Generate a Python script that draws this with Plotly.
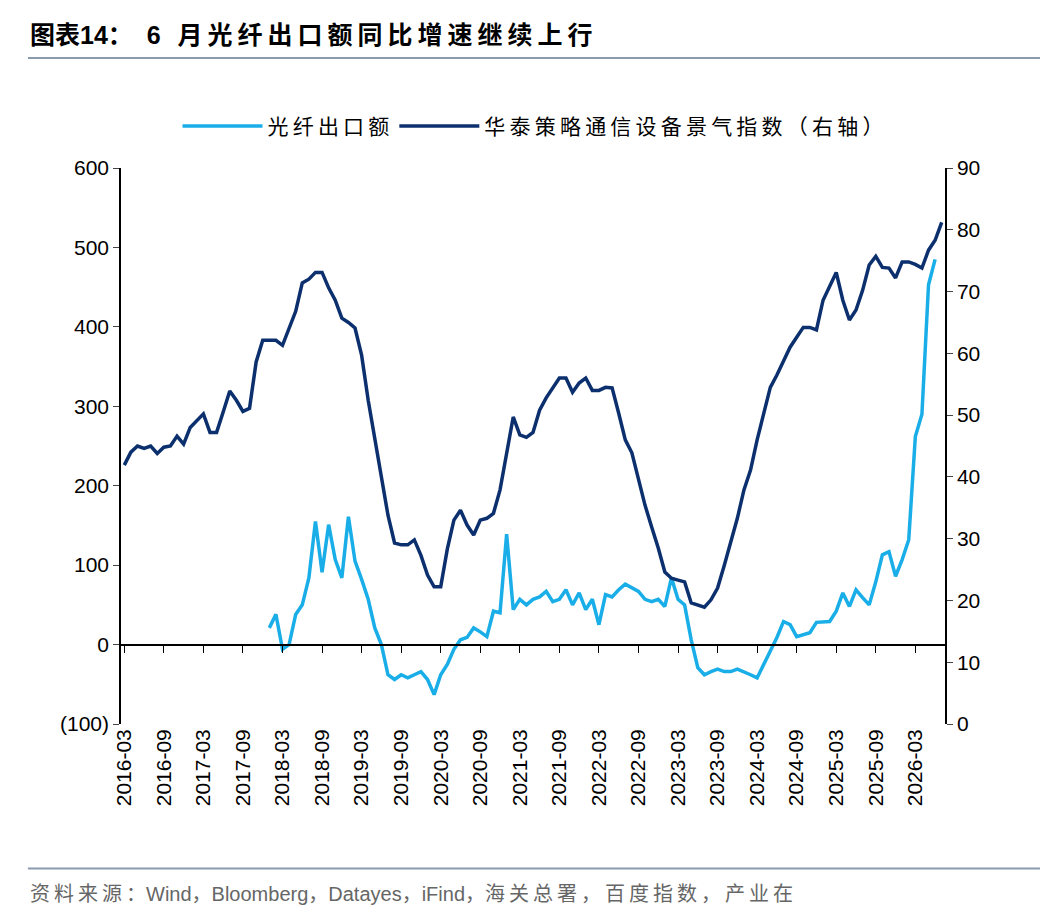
import plotly.graph_objects as go

def months(start_y, start_m, n):
    out = []
    y, m = start_y, start_m
    for _ in range(n):
        out.append(f"{y}-{m:02d}")
        m += 1
        if m > 12:
            m = 1; y += 1
    return out

index_vals = [41.9,44,45,44.6,45,43.8,44.8,45,46.6,45.3,
              48,49.2,50.2,47.2,47.2,50.5,53.9,52.4,50.6,51.1,
              58.6,62.1,62.1,62.1,61.3,64.2,66.8,71.4,72,73.1,
              73.1,70.6,68.6,65.7,65,64.1,59.7,52.4,46,39.5,
              33.8,29.3,29,29,29.8,27.3,24.1,22.2,22.2,28.3,
              33,34.6,32.2,30.6,33,33.3,34.1,37.9,43.5,49.7,
              46.8,46.4,47.2,50.8,52.8,54.4,56,56,53.7,55.2,
              56,54,54,54.5,54.4,50.3,46,43.9,39.5,35.4,
              31.9,28.5,24.6,23.6,23.3,23,19.6,19.3,18.9,20.1,
              22,25.6,29.3,33.3,37.9,41.1,46,50,54.5,56.5,
              58.6,61,62.6,64.2,64.2,63.8,68.6,71,73.1,68.6,
              65.4,67,70.2,74.3,75.7,73.9,73.8,72.2,74.8,74.8,
              74.4,73.8,76.7,78.3,81.2]
export_vals = [21,38,-6,0,38,50,84,155,91,151,
               107,84,161,105,82,57,21,0,-38,-44,
               -38,-42,-38,-34,-44,-63,-38,-25,-6,6,
               9,21,16,10,42,40,139,44,57,50,
               57,60,67,54,57,69,50,65,44,57,
               25,63,60,69,76,72,67,57,54,57,
               48,84,57,50,6,-29,-38,-34,-31,-34,
               -34,-31,-34,-38,-42,-25,-6,9,29,25,
               10,13,15,28,28,29,42,65,48,69,
               59,50,79,113,117,86,107,132,262,290,
               453,485]

dates = months(2016, 3, len(index_vals))
export_dates = dates[22:22 + len(export_vals)]
tick_labels = dates[0:121:6]
left_ticks = [-100, 0, 100, 200, 300, 400, 500, 600]
left_text = ["(100)", "0", "100", "200", "300", "400", "500", "600"]

LIGHT = "#1AAEE8"
DARK = "#0C2F6E"
FONT = "Liberation Sans, Noto Sans CJK SC, sans-serif"

def spaced(s):
    return "\u2009".join(list(s))

fig = go.Figure()
fig.add_trace(go.Scatter(x=export_dates, y=export_vals, name=spaced("光纤出口额"), mode="lines",
                         line=dict(color=LIGHT, width=3.5)))
fig.add_trace(go.Scatter(x=dates, y=index_vals, name=spaced("华泰策略通信设备景气指数（右轴）"), mode="lines",
                         line=dict(color=DARK, width=3.5), yaxis="y2"))
fig.add_trace(go.Scatter(x=dates, y=[None]*len(dates), xaxis="x2", showlegend=False, hoverinfo="skip"))

fig.update_layout(
    width=1048, height=916, paper_bgcolor="white", plot_bgcolor="white",
    margin=dict(l=113, r=111, t=160, b=200, autoexpand=False),
    font=dict(family=FONT, size=21, color="#000"),
    showlegend=True,
    legend=dict(orientation="h", x=0.5, xanchor="center", y=1.075, yanchor="middle",
                font=dict(size=21), itemwidth=80),
    xaxis=dict(type="category", categoryorder="array", categoryarray=dates,
               range=[-0.5, len(dates) - 0.5], tickmode="array", tickvals=tick_labels,
               ticktext=tick_labels, tickangle=-90, showgrid=False, showline=False,
               ticks="", tickfont=dict(size=21)),
    xaxis2=dict(type="category", categoryorder="array", categoryarray=dates, matches="x",
                overlaying="x", anchor="free", position=100/700, showline=True,
                linecolor="#000", linewidth=1.5, ticks="outside", ticklen=8,
                tickcolor="#000", tickvals=tick_labels, showticklabels=False, showgrid=False),
    yaxis=dict(range=[-100, 600], tickvals=left_ticks, ticktext=left_text, showgrid=False,
               showline=True, linecolor="#000", linewidth=1.5, ticks="outside", ticklen=6,
               zeroline=False, tickfont=dict(size=21)),
    yaxis2=dict(range=[0, 90], dtick=10, overlaying="y", side="right", showgrid=False,
                showline=True, linecolor="#000", linewidth=1.5, ticks="outside", ticklen=6,
                tickfont=dict(size=21)),
)
fig.add_shape(type="line", xref="paper", yref="paper", x0=-0.113, x1=1.117, y0=1.198, y1=1.198,
              line=dict(color="#8A9BB0", width=2))
fig.add_shape(type="line", xref="paper", yref="paper", x0=-0.113, x1=1.117, y0=-0.26, y1=-0.26,
              line=dict(color="#8A9BB0", width=2))
fig.add_annotation(xref="paper", yref="paper", x=-0.113, y=1.24, xanchor="left", yanchor="middle",
                   showarrow=False, text="<b>图表14：  " + spaced("6 月光纤出口额同比增速继续上行") + "</b>",
                   font=dict(size=25, color="#000"))
fig.add_annotation(xref="paper", yref="paper", x=-0.113, y=-0.305, xanchor="left", yanchor="middle",
                   showarrow=False, text=spaced("资料来源：") + "Wind，Bloomberg，Datayes，iFind，" + spaced("海关总署，百度指数，产业在"),
                   font=dict(size=20, color="#666"))
fig.write_html("out.html")
